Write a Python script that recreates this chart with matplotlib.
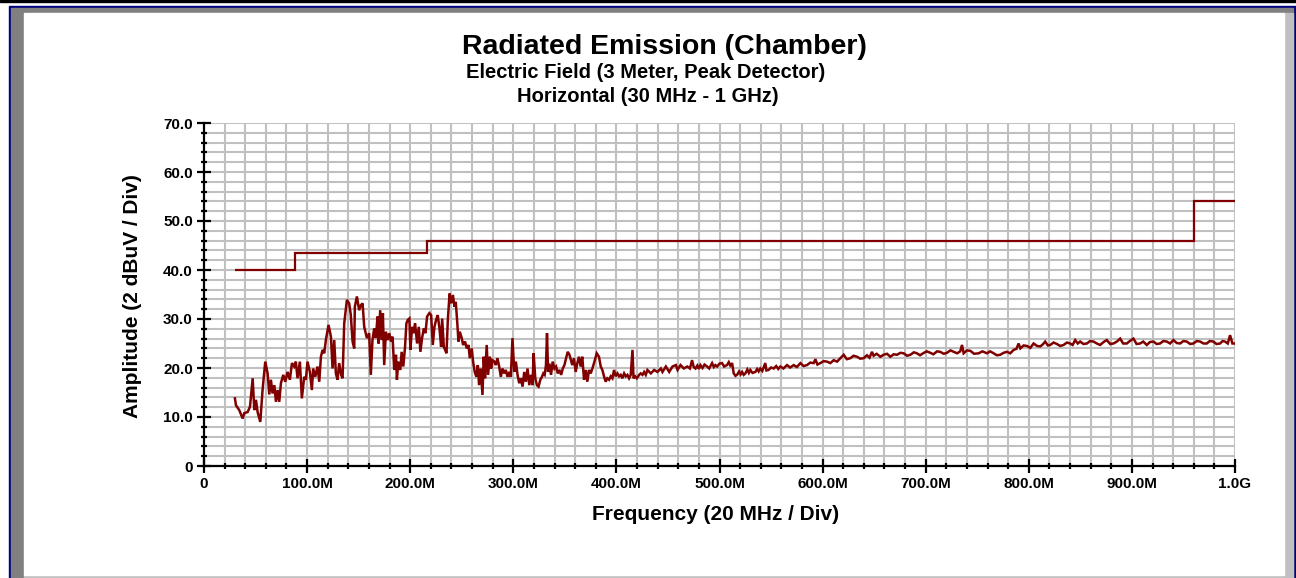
import numpy as np
import matplotlib
matplotlib.use('Agg')
import matplotlib.pyplot as plt
from matplotlib.patches import Rectangle
from matplotlib.ticker import MultipleLocator, FixedLocator, FixedFormatter

# DATA
# lower band, 30 - 472 MHz
low_freq_mhz = [
    30.0, 31.0, 34.2, 37.5, 39.1, 42.3, 44.6, 47.2, 48.8, 50.4,
    52.0, 54.6, 56.8, 59.4, 61.7, 63.3, 64.9, 66.5, 68.2, 69.8,
    71.4, 73.0, 74.6, 76.9, 78.8, 81.1, 83.3, 85.3, 87.5, 89.1,
    90.7, 93.0, 94.9, 97.2, 98.8, 100.4, 102.7, 104.6, 105.9, 107.9,
    110.1, 111.8, 113.4, 115.0, 116.6, 118.2, 120.8, 123.1, 124.7, 126.3,
    127.9, 129.5, 131.1, 133.0, 134.4, 136.0, 138.6, 140.8, 142.4, 144.1,
    145.7, 146.3, 148.3, 150.5, 152.1, 153.8, 155.4, 158.0, 160.2, 161.8,
    163.4, 165.1, 166.7, 168.3, 169.3, 170.9, 172.2, 173.5, 174.8, 176.4,
    178.0, 179.7, 181.3, 182.9, 184.5, 186.2, 187.1, 188.4, 190.4, 191.7,
    193.3, 195.0, 196.3, 197.6, 199.2, 200.2, 201.8, 203.4, 204.7, 206.7,
    208.3, 209.9, 211.5, 213.2, 214.8, 216.4, 218.6, 220.3, 221.9, 223.5,
    225.1, 226.7, 228.4, 230.0, 231.0, 232.6, 233.9, 235.2, 236.5, 238.2,
    239.8, 241.4, 243.0, 244.2, 245.8, 246.8, 248.1, 250.0, 251.3, 253.2,
    254.8, 256.5, 257.8, 259.7, 261.0, 262.6, 264.2, 265.6, 266.8, 268.4,
    270.1, 271.3, 272.6, 274.2, 275.5, 277.2, 278.5, 279.8, 281.7, 283.0,
    284.6, 286.3, 287.9, 289.5, 291.1, 292.7, 294.4, 296.0, 297.6, 299.2,
    300.9, 302.5, 304.1, 305.7, 307.3, 309.0, 310.6, 312.2, 313.8, 315.5,
    317.1, 318.7, 319.7, 321.3, 322.9, 324.5, 326.2, 327.8, 329.1, 330.4,
    331.7, 332.7, 333.7, 335.0, 336.6, 338.2, 339.9, 341.5, 343.1, 344.7,
    346.4, 348.0, 349.6, 351.2, 352.8, 354.5, 357.2, 358.8, 360.5, 362.1,
    363.7, 365.3, 366.9, 368.6, 370.2, 371.8, 373.4, 375.1, 376.7, 378.3,
    380.9, 383.1, 384.8, 386.4, 388.0, 389.6, 391.2, 392.9, 394.5, 396.1,
    397.7, 399.3, 401.0, 402.6, 404.2, 405.8, 407.5, 409.1, 410.7, 412.3,
    413.9, 415.6, 416.6, 418.2, 419.8, 422.1, 423.6, 425.3, 426.9, 428.5,
    430.1, 433.4, 436.6, 439.8, 443.1, 444.7, 448.0, 451.2, 454.4, 457.7,
    459.3, 462.2, 465.4, 468.7, 471.3,
]
low_amplitude_dbuv = [
    13.8, 12.4, 11.4, 9.7, 10.8, 11.0, 12.1, 17.9, 11.4, 13.5,
    11.0, 9.0, 15.5, 21.3, 18.9, 14.6, 17.6, 14.8, 16.5, 13.1,
    15.5, 13.1, 16.9, 18.6, 17.2, 19.2, 17.6, 21.0, 20.3, 21.3,
    17.9, 21.3, 13.8, 18.2, 17.6, 21.3, 19.2, 15.5, 19.9, 18.2,
    20.3, 17.2, 22.3, 23.7, 23.0, 25.7, 28.8, 26.4, 19.9, 25.7,
    18.9, 17.6, 21.0, 18.6, 17.9, 29.1, 33.9, 33.2, 30.8, 25.4,
    24.0, 32.5, 34.6, 31.8, 32.8, 33.2, 28.4, 26.1, 27.1, 18.6,
    25.7, 28.1, 26.1, 30.5, 25.0, 31.8, 25.7, 31.2, 20.6, 27.4,
    25.7, 27.1, 25.4, 26.4, 19.6, 22.7, 17.6, 21.3, 19.6, 23.3,
    20.3, 24.3, 29.1, 29.8, 30.1, 23.7, 28.4, 27.1, 29.1, 25.0,
    28.4, 23.3, 26.1, 28.1, 27.1, 30.5, 31.2, 30.8, 24.7, 28.4,
    29.8, 30.8, 28.1, 24.3, 30.1, 24.3, 23.7, 23.0, 29.8, 35.2,
    33.2, 34.9, 32.5, 33.5, 28.8, 25.4, 27.4, 26.1, 24.7, 25.4,
    24.0, 24.7, 22.0, 24.0, 21.3, 19.2, 18.2, 20.6, 16.5, 19.9,
    14.5, 22.3, 17.9, 24.7, 18.6, 22.3, 19.9, 21.6, 21.3, 20.6,
    22.0, 20.3, 18.2, 19.9, 18.9, 19.6, 18.2, 19.2, 18.2, 26.1,
    19.2, 21.3, 18.6, 16.9, 17.9, 16.2, 19.2, 17.2, 19.9, 16.5,
    18.6, 16.5, 23.0, 17.9, 16.5, 16.2, 17.6, 18.2, 18.9, 18.6,
    20.6, 27.1, 19.2, 20.9, 18.6, 21.3, 19.9, 20.3, 18.9, 19.6,
    18.6, 19.9, 20.6, 22.0, 23.3, 22.7, 20.6, 22.0, 19.2, 21.0,
    22.3, 20.3, 22.3, 17.6, 19.6, 17.2, 19.6, 18.9, 19.9, 21.0,
    23.0, 22.3, 20.3, 19.6, 18.3, 17.2, 17.9, 17.6, 18.3, 17.9,
    19.6, 18.3, 18.9, 18.3, 18.6, 17.9, 18.9, 18.3, 18.6, 17.9,
    18.6, 23.7, 17.9, 18.3, 17.9, 18.6, 18.9, 18.6, 19.2, 18.6,
    19.6, 18.9, 19.6, 19.2, 19.9, 19.2, 20.3, 19.2, 20.3, 20.6,
    19.6, 20.6, 19.9, 20.3, 19.9,
]
# upper band, 473 MHz - 1 GHz
high_freq_mhz = [
    473.4, 475.0, 476.7, 478.5, 480.0, 481.5, 483.5, 485.5, 488.0, 490.0,
    492.8, 494.5, 496.0, 497.7, 500.0, 502.5, 504.5, 507.3, 509.0, 510.5,
    512.2, 513.8, 515.5, 517.0, 519.0, 520.5, 521.9, 523.5, 525.1, 527.0,
    528.5, 529.9, 532.0, 534.8, 536.5, 538.0, 539.6, 541.5, 544.4, 545.5,
    547.6, 550.0, 552.6, 555.0, 557.0, 559.1, 562.0, 565.5, 568.5, 572.0,
    575.0, 578.5, 581.5, 584.9, 588.0, 591.4, 593.0, 595.0, 597.8, 601.0,
    604.3, 607.5, 610.8, 614.0, 617.2, 620.5, 623.5, 626.9, 630.0, 633.4,
    636.5, 639.8, 643.0, 645.5, 647.9, 649.5, 652.5, 656.0, 659.2, 662.5,
    665.7, 669.0, 672.1, 675.5, 678.6, 682.0, 685.1, 688.5, 691.5, 694.5,
    697.4, 701.0, 704.5, 707.5, 711.0, 714.1, 717.5, 720.6, 724.0, 727.1,
    730.5, 733.5, 735.2, 736.8, 740.0, 743.3, 747.0, 751.4, 755.0, 759.4,
    762.5, 765.9, 769.0, 772.3, 775.5, 778.8, 782.0, 785.3, 788.0, 790.1,
    791.8, 795.0, 798.2, 801.5, 804.6, 808.0, 811.1, 813.5, 815.9, 818.5,
    820.8, 824.0, 827.2, 830.5, 833.7, 837.0, 840.1, 842.5, 845.0, 847.5,
    849.8, 853.0, 856.3, 859.5, 862.7, 866.0, 869.2, 872.5, 875.6, 879.0,
    882.1, 885.5, 888.6, 891.5, 895.0, 898.0, 901.5, 904.5, 908.0, 911.0,
    914.4, 917.5, 920.9, 924.0, 927.3, 930.5, 933.8, 937.0, 940.3, 943.5,
    946.7, 950.0, 953.2, 956.5, 959.6, 963.0, 966.1, 969.5, 972.6, 975.5,
    979.0, 982.0, 985.5, 988.0, 990.3, 993.0, 995.2, 997.5, 1000.0,
]
high_amplitude_dbuv = [
    21.6, 20.2, 19.9, 20.5, 19.8, 20.6, 20.0, 20.7, 20.3, 19.9,
    21.0, 20.2, 20.6, 20.3, 20.9, 21.0, 20.3, 20.6, 21.2, 20.5,
    21.0, 18.9, 18.4, 18.6, 19.3, 18.7, 19.2, 18.6, 18.9, 19.7,
    19.0, 19.6, 19.0, 19.2, 19.8, 19.3, 19.9, 19.4, 21.0, 19.5,
    19.6, 20.1, 19.9, 20.4, 19.8, 20.3, 19.9, 20.6, 20.1, 20.6,
    20.2, 21.0, 20.4, 20.6, 21.1, 21.0, 21.8, 20.7, 21.0, 21.4,
    21.3, 21.0, 21.6, 21.3, 22.0, 22.7, 21.8, 22.0, 22.5, 22.3,
    21.9, 22.0, 22.6, 22.1, 23.3, 22.5, 22.9, 22.3, 22.7, 22.9,
    22.3, 22.8, 22.7, 23.1, 23.0, 22.5, 22.7, 23.2, 23.0, 22.6,
    23.0, 23.4, 23.1, 22.8, 23.4, 23.3, 22.9, 23.1, 23.6, 23.3,
    23.0, 23.4, 24.7, 23.0, 23.6, 23.5, 22.9, 23.0, 23.4, 23.0,
    23.4, 23.0, 22.6, 22.7, 23.1, 23.3, 23.0, 23.7, 23.9, 25.0,
    24.0, 24.6, 24.5, 24.1, 25.0, 24.5, 24.4, 24.8, 25.4, 24.6,
    24.7, 25.2, 24.9, 24.5, 24.7, 25.2, 25.0, 24.7, 25.7, 25.0,
    25.4, 24.9, 25.0, 25.5, 25.4, 25.0, 24.7, 25.3, 25.7, 24.9,
    25.0, 25.4, 26.0, 25.0, 25.0, 25.5, 26.0, 24.9, 25.0, 25.4,
    24.7, 25.3, 25.4, 24.9, 25.0, 25.5, 25.4, 25.0, 25.7, 25.1,
    25.0, 25.5, 25.4, 24.9, 25.0, 25.5, 25.4, 25.0, 25.0, 25.5,
    25.4, 24.9, 25.0, 25.5, 25.4, 25.0, 26.7, 25.0, 25.0,
]
limit_edges = [30, 88, 216, 960, 1000]
limit_levels = [40, 43.5, 46, 54]

x_ticks = [0, 100, 200, 300, 400, 500, 600, 700, 800, 900, 1000]
x_tick_labels = ['0', '100.0M', '200.0M', '300.0M', '400.0M', '500.0M',
                 '600.0M', '700.0M', '800.0M', '900.0M', '1.0G']
y_ticks = [0, 10, 20, 30, 40, 50, 60, 70]
y_tick_labels = ['0', '10.0', '20.0', '30.0', '40.0', '50.0', '60.0', '70.0']

freq_mhz = low_freq_mhz + high_freq_mhz
amplitude_dbuv = low_amplitude_dbuv + high_amplitude_dbuv

# LET'S MAKE THE PLOT
plt.rcParams['font.family'] = ['Liberation Sans', 'DejaVu Sans']
plt.rcParams['font.weight'] = 'bold'
W, H = 1296, 578
fig = plt.figure(figsize=(W / 100, H / 100), dpi=100)
fig.patch.set_facecolor('white')

# window frame drawn in pixel coordinates
bg = fig.add_axes([0, 0, 1, 1], zorder=-5)
bg.set_xlim(0, W)
bg.set_ylim(H, 0)
bg.axis('off')
bg.add_patch(Rectangle((0, 0), W, 1.5, color='black'))
bg.add_patch(Rectangle((9, 6), W - 9, H - 6, color='#000080'))
bg.add_patch(Rectangle((11, 8), 1282, H - 8, color='#808080'))
bg.add_patch(Rectangle((1284, 13), 9, H - 13, color='#c0c0c0'))
bg.add_patch(Rectangle((24, 575), 1260, 3, color='#c0c0c0'))
bg.add_patch(Rectangle((24, 13), 1260, 562, color='white'))

ax = fig.add_axes([204 / W, 112 / H, 1031 / W, 343 / H])
ax.set_facecolor('none')
ax.set_xlim(0, 1000)
ax.set_ylim(0, 70)

ax.xaxis.set_major_locator(FixedLocator(x_ticks))
ax.xaxis.set_major_formatter(FixedFormatter(x_tick_labels))
ax.xaxis.set_minor_locator(MultipleLocator(20))
ax.yaxis.set_major_locator(FixedLocator(y_ticks))
ax.yaxis.set_major_formatter(FixedFormatter(y_tick_labels))
ax.yaxis.set_minor_locator(MultipleLocator(2))

ax.grid(which='both', color='#c0c0c0', lw=1.5, zorder=0)
ax.set_axisbelow(True)
for s in ['top', 'right']:
    ax.spines[s].set_visible(False)
for s in ['left', 'bottom']:
    ax.spines[s].set_linewidth(1.6)
    ax.spines[s].set_color('black')

ax.tick_params(which='major', direction='inout', length=10, width=1.6,
               labelsize=11, pad=3)
ax.tick_params(which='minor', direction='inout', length=5, width=1.6)
for lab in ax.get_xticklabels() + ax.get_yticklabels():
    lab.set_fontweight('bold')

ax.stairs(limit_levels, limit_edges, baseline=None, color='#800000', lw=1.6, zorder=3)
ax.plot(freq_mhz, amplitude_dbuv, color='#800000', lw=1.8, zorder=4,
        solid_joinstyle='miter')

fig.text(664 / W, 1 - 47 / H, 'Radiated Emission (Chamber)', ha='center', va='center',
         fontsize=20.5, fontweight='bold')
fig.text(646 / W, 1 - 72 / H, 'Electric Field (3 Meter, Peak Detector)', ha='center',
         va='center', fontsize=14.5, fontweight='bold')
fig.text(648 / W, 1 - 96 / H, 'Horizontal (30 MHz - 1 GHz)', ha='center', va='center',
         fontsize=14.5, fontweight='bold')
fig.text(716 / W, 1 - 515 / H, 'Frequency (20 MHz / Div)', ha='center', va='center',
         fontsize=15, fontweight='bold')
fig.text(133 / W, 1 - 296 / H, 'Amplitude (2 dBuV / Div)', ha='center', va='center',
         rotation=90, fontsize=15, fontweight='bold')

fig.savefig('out.png', dpi=100)
